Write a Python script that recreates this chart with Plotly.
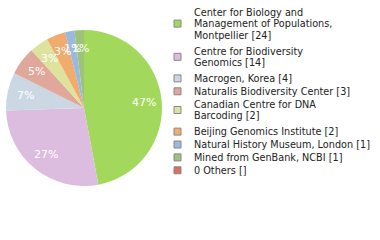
import math
import plotly.graph_objects as go

labels = [
    "Center for Biology and<br>Management of Populations,<br>Montpellier [24]",
    "Centre for Biodiversity<br>Genomics [14]",
    "Macrogen, Korea [4]",
    "Naturalis Biodiversity Center [3]",
    "Canadian Centre for DNA<br>Barcoding [2]",
    "Beijing Genomics Institute [2]",
    "Natural History Museum, London [1]",
    "Mined from GenBank, NCBI [1]",
    "0 Others []",
]
values = [24, 14, 4, 3, 2, 2, 1, 1, 0]
colors = ["#a2d95c", "#dcbde0", "#cbd7e3", "#e0a79b", "#dde39c",
          "#f0ab6d", "#9bb9df", "#9dc37b", "#d9705b"]

W, H = 380, 240
CX, CY, R = 84, 108, 78          # pie centre / radius in pixels
total = sum(values)
texts = [f"{int(v * 100 // total)}%" if v > 0 else "" for v in values]

fig = go.Figure(go.Pie(
    labels=labels, values=values, textinfo="none",
    sort=False, direction="clockwise", rotation=0,
    marker=dict(colors=colors, line=dict(width=0)),
    domain=dict(x=[(CX - R) / W, (CX + R) / W],
                y=[1 - (CY + R) / H, 1 - (CY - R) / H]),
    showlegend=False, hoverinfo="label+value+percent",
))

annotations = []
shapes = []

# slice percentage labels, placed at the middle angle of each slice
cum = 0
for v, t in zip(values, texts):
    if v > 0:
        ang = math.radians((cum + v / 2) / total * 360)
        rr = R * 0.77
        px = CX + rr * math.sin(ang)
        py = CY - rr * math.cos(ang)
        annotations.append(dict(
            x=px / W, y=1 - py / H, xref="paper", yref="paper",
            text=t, showarrow=False, xanchor="center", yanchor="middle",
            font=dict(family="DejaVu Sans", size=11, color="white")))
    cum += v

# custom legend (compact line spacing)
LINE = 11.6
y = 12.0
for i, (lab, c) in enumerate(zip(labels, colors)):
    lines = lab.split("<br>")
    n = len(lines)
    for k, ln in enumerate(lines):
        annotations.append(dict(
            x=192 / W, y=1 - (y + k * LINE) / H, xref="paper", yref="paper",
            text=ln, showarrow=False, xanchor="left", yanchor="middle",
            font=dict(family="DejaVu Sans", size=9.7, color="#222")))
    mid = y + (n - 1) * LINE / 2
    shapes.append(dict(
        type="rect", xref="paper", yref="paper",
        x0=174 / W, x1=181 / W, y0=1 - (mid + 3.5) / H, y1=1 - (mid - 3.5) / H,
        fillcolor=c, line=dict(color="#888", width=1)))
    y = y + (n - 1) * LINE + 12.5 + (3.3 if n > 1 else 0.4)

fig.update_layout(
    width=W, height=H, margin=dict(l=0, r=0, t=0, b=0),
    paper_bgcolor="white", plot_bgcolor="white",
    annotations=annotations, shapes=shapes,
)
fig.write_html("out.html")
